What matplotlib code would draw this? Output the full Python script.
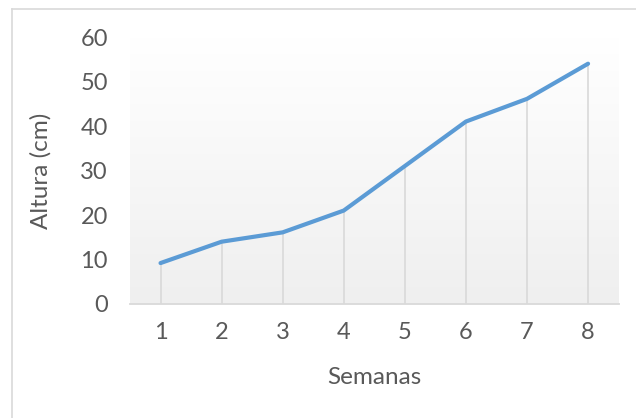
import matplotlib.pyplot as plt
import numpy as np
from matplotlib.colors import LinearSegmentedColormap
from matplotlib.lines import Line2D

semanas = [1, 2, 3, 4, 5, 6, 7, 8]
altura = [9.2, 14, 16.1, 21, 31, 41, 46.1, 54]

plt.rcParams['font.family'] = ['Lato', 'DejaVu Sans']
gris = '#595959'

fig = plt.figure(figsize=(6.36, 4.18), dpi=100)
ax = fig.add_axes([130 / 636, 1 - 304 / 418, 488.6 / 636, 267 / 418])

# fondo degradado del área de trazado
grad = np.linspace(0, 1, 256).reshape(-1, 1)
ax.imshow(grad, extent=[0.5, 8.5, 0, 60], aspect='auto', origin='upper',
          cmap=LinearSegmentedColormap.from_list('g', ['#ffffff', '#efefef']),
          zorder=0)

# líneas de caída
ax.vlines(semanas, 0, altura, colors='#d9d9d9', linewidth=1.2, zorder=1)
ax.plot(semanas, altura, color='#5b9bd5', linewidth=3.0, solid_capstyle='round',
        solid_joinstyle='round', zorder=3)

ax.set_xlim(0.5, 8.5)
ax.set_ylim(0, 60)
ax.set_xticks(semanas)
ax.set_yticks(range(0, 61, 10))
ax.tick_params(axis='both', length=0, labelsize=17, colors=gris)
ax.tick_params(axis='y', pad=16)
ax.tick_params(axis='x', pad=13)

for s in ['top', 'right', 'left']:
    ax.spines[s].set_visible(False)
ax.spines['bottom'].set_color('#d9d9d9')
ax.spines['bottom'].set_linewidth(1.3)
ax.spines['bottom'].set_zorder(2)

ax.set_xlabel('Semanas', fontsize=17.5, color=gris, va='center')
ax.set_ylabel('Altura (cm)', fontsize=17.5, color=gris, va='center')
ax.xaxis.set_label_coords(0.5, (304 - 377) / 267)
ax.yaxis.set_label_coords((41 - 130) / 488.6, 0.5)

# borde del gráfico
fig.add_artist(Line2D([12 / 636, 12 / 636], [0, 1 - 9 / 418], transform=fig.transFigure,
                      color='#d9d9d9', linewidth=1.2))
fig.add_artist(Line2D([12 / 636, 1], [1 - 9 / 418, 1 - 9 / 418], transform=fig.transFigure,
                      color='#d9d9d9', linewidth=1.2))

fig.savefig('out.png', dpi=100)
